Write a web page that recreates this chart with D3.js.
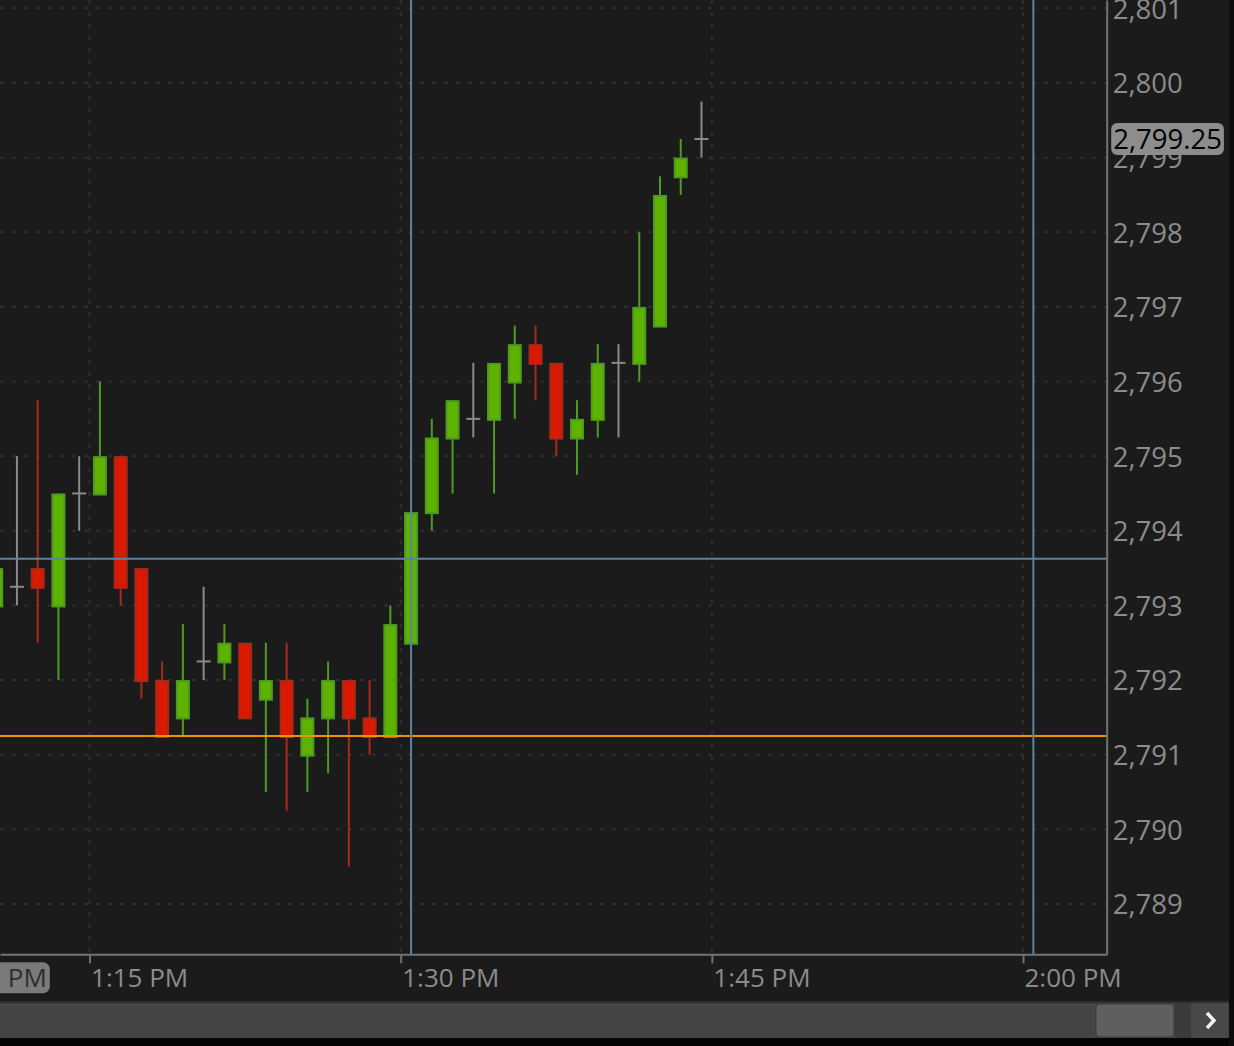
<!DOCTYPE html>
<html>
<head>
<meta charset="utf-8">
<script src="https://cdn.jsdelivr.net/npm/d3@7"></script>
<style>
  body { margin: 0; background: #1b1b1b; overflow: hidden; }
  svg { display: block; }
  text { font-family: 'Open Sans', sans-serif; }
</style>
</head>
<body>
<div id="chart"></div>
<script>
// one minute bars, 1:10 PM .. 1:44 PM
const barTimes = ['13:10', '13:11', '13:12', '13:13', '13:14', '13:15', '13:16',
    '13:17', '13:18', '13:19', '13:20', '13:21', '13:22', '13:23', '13:24',
    '13:25', '13:26', '13:27', '13:28', '13:29', '13:30', '13:31', '13:32',
    '13:33', '13:34', '13:35', '13:36', '13:37', '13:38', '13:39', '13:40',
    '13:41', '13:42', '13:43', '13:44']
const opens = [2793, 2793.25, 2793.5, 2793, 2794.5, 2794.5, 2795, 2793.5, 2792,
    2791.5, 2792.25, 2792.25, 2792.5, 2791.75, 2792, 2791, 2791.5, 2792, 2791.5,
    2791.25, 2792.5, 2794.25, 2795.25, 2795.5, 2795.5, 2796, 2796.5, 2796.25,
    2795.25, 2795.5, 2796.25, 2796.25, 2796.75, 2798.75, 2799.25]
const highs = [2793.5, 2795, 2795.75, 2794.5, 2795, 2796, 2795, 2793.5, 2792.25,
    2792.75, 2793.25, 2792.75, 2792.5, 2792.5, 2792.5, 2791.75, 2792.25, 2792, 2792,
    2793, 2794.25, 2795.5, 2795.75, 2796.25, 2796.25, 2796.75, 2796.75, 2796.25,
    2795.75, 2796.5, 2796.5, 2798, 2798.75, 2799.25, 2799.75]
const lows = [2793, 2793, 2792.5, 2792, 2794, 2794.5, 2793, 2791.75, 2791.25,
    2791.25, 2792, 2792, 2791.5, 2790.5, 2790.25, 2790.5, 2790.75, 2789.5, 2791,
    2791.25, 2792.5, 2794, 2794.5, 2795.25, 2794.5, 2795.5, 2795.75, 2795,
    2794.75, 2795.25, 2795.25, 2796, 2796.75, 2798.5, 2799]
const closes = [2793.5, 2793.25, 2793.25, 2794.5, 2794.5, 2795, 2793.25, 2792,
    2791.25, 2792, 2792.25, 2792.5, 2791.5, 2792, 2791.25, 2791.5, 2792, 2791.5,
    2791.25, 2792.75, 2794.25, 2795.25, 2795.75, 2795.5, 2796.25, 2796.5, 2796.25,
    2795.25, 2795.5, 2796.25, 2796.25, 2797, 2798.5, 2799, 2799.25]

const priceTicks = [2789, 2790, 2791, 2792, 2793, 2794, 2795, 2796, 2797, 2798, 2799, 2800, 2801]
const timeTicks = ['13:15', '13:30', '13:45', '14:00']
const lastPrice = 2799.25
const orangeLevel = 2791.25
const crossPrice = 2793.625
const crossTimes = ['13:30', '14:00']
const bubbleTime = '13:10'

const W = 1234, H = 1046
const plotRight = 1106.7, plotBottom = 954.3

const parseTime = d3.timeParse('%H:%M')

var x = d3.scaleTime()
    .domain([parseTime('13:30'), parseTime('14:00')])
    .range([400.7, 1023])
x.domain([x.invert(0), x.invert(plotRight)]).range([0, plotRight])

var y = d3.scaleLinear()
    .domain([2791, 2800])
    .range([754.7, 83])
y.domain([y.invert(plotBottom), y.invert(0)]).range([plotBottom, 0])

var barW = x(parseTime('13:11')) - x(parseTime('13:10'))
var cx = (t) => x(parseTime(t)) + barW / 2

var bars = barTimes.map((t, i) => {
    return { t: t, o: opens[i], h: highs[i], l: lows[i], c: closes[i] }
})

var svg = d3.select('#chart')
    .append('svg')
    .attr('width', W)
    .attr('height', H)

svg.append('rect').attr('width', W).attr('height', H).attr('fill', '#1b1b1b')

svg.append('defs').append('clipPath').attr('id', 'plot')
    .append('rect').attr('width', plotRight).attr('height', plotBottom)

var plot = svg.append('g').attr('clip-path', 'url(#plot)')

// grid
plot.selectAll('.hgrid')
    .data(priceTicks)
    .enter()
    .append('line')
    .attr('x1', 0).attr('x2', plotRight)
    .attr('y1', (d) => y(d)).attr('y2', (d) => y(d))
    .attr('stroke', '#2f2f2f').attr('stroke-width', 2)
    .attr('stroke-dasharray', '4,8')

plot.selectAll('.vgrid')
    .data(timeTicks)
    .enter()
    .append('line')
    .attr('x1', (d) => x(parseTime(d))).attr('x2', (d) => x(parseTime(d)))
    .attr('y1', 0).attr('y2', plotBottom)
    .attr('stroke', '#2f2f2f').attr('stroke-width', 2)
    .attr('stroke-dasharray', '4,8')

var colorOf = (d) => d.c > d.o ? 'up' : (d.c < d.o ? 'down' : 'flat')
const wickColor = { up: '#4e9b22', down: '#a9291b', flat: '#8a8a8a' }
const bodyColor = { up: '#5db300', down: '#d91a00' }

// wicks
plot.selectAll('.wick')
    .data(bars)
    .enter()
    .append('line')
    .attr('x1', (d) => cx(d.t)).attr('x2', (d) => cx(d.t))
    .attr('y1', (d) => y(d.h)).attr('y2', (d) => y(d.l))
    .attr('stroke', (d) => wickColor[colorOf(d)])
    .attr('stroke-width', 2)

// bodies
plot.selectAll('.body')
    .data(bars.filter((d) => d.o != d.c))
    .enter()
    .append('rect')
    .attr('x', (d) => cx(d.t) - 6)
    .attr('y', (d) => y(Math.max(d.o, d.c)) + 1)
    .attr('width', 12)
    .attr('height', (d) => Math.abs(y(d.o) - y(d.c)))
    .attr('fill', (d) => bodyColor[colorOf(d)])
    .attr('stroke', (d) => wickColor[colorOf(d)])
    .attr('stroke-width', 2)

// doji crosses
plot.selectAll('.doji')
    .data(bars.filter((d) => d.o == d.c))
    .enter()
    .append('line')
    .attr('x1', (d) => cx(d.t) - 7).attr('x2', (d) => cx(d.t) + 7)
    .attr('y1', (d) => y(d.c)).attr('y2', (d) => y(d.c))
    .attr('stroke', wickColor.flat)
    .attr('stroke-width', 2)

// price lines and crosshair
plot.append('line')
    .attr('x1', 0).attr('x2', plotRight)
    .attr('y1', y(orangeLevel)).attr('y2', y(orangeLevel))
    .attr('stroke', '#f39200').attr('stroke-width', 2)

plot.append('line')
    .attr('x1', 0).attr('x2', plotRight)
    .attr('y1', y(crossPrice)).attr('y2', y(crossPrice))
    .attr('stroke', '#5b83a3').attr('stroke-width', 2)

plot.selectAll('.vcross')
    .data(crossTimes)
    .enter()
    .append('line')
    .attr('x1', (d) => cx(d)).attr('x2', (d) => cx(d))
    .attr('y1', 0).attr('y2', plotBottom)
    .attr('stroke', '#5b83a3').attr('stroke-width', 2)

// axes
var xAxis = svg.append('g')
    .attr('transform', 'translate(0,' + plotBottom + ')')
    .call(d3.axisBottom(x)
        .tickValues(timeTicks.map(parseTime))
        .tickFormat(d3.timeFormat('%-I:%M %p'))
        .tickSize(9)
        .tickSizeOuter(0))
xAxis.select('.domain').attr('stroke', '#737373').attr('stroke-width', 2)
xAxis.selectAll('.tick line').attr('stroke', '#737373').attr('stroke-width', 2)
xAxis.selectAll('.tick text')
    .attr('text-anchor', 'start')
    .attr('x', 1).attr('y', 33).attr('dy', 0)
    .attr('fill', '#8c8c8c')
    .style('font-size', '26px')

var yAxis = svg.append('g')
    .attr('transform', 'translate(' + plotRight + ',0)')
    .call(d3.axisRight(y)
        .tickValues(priceTicks)
        .tickFormat(d3.format(','))
        .tickSize(0)
        .tickPadding(6)
        .tickSizeOuter(0))
yAxis.select('.domain').attr('stroke', '#737373').attr('stroke-width', 2)
yAxis.selectAll('.tick text')
    .attr('dy', '0.36em')
    .attr('fill', '#8c8c8c')
    .style('font-size', '27.5px')

// last price bubble
var pb = svg.append('g')
var pbRect = pb.append('rect')
var pbText = pb.append('text')
    .attr('x', plotRight + 6.5)
    .attr('y', y(lastPrice))
    .attr('dy', '0.36em')
    .attr('fill', '#000')
    .style('font-size', '27.5px')
    .text(d3.format(',.2f')(lastPrice))
var bb = pbText.node().getBBox()
pbRect.attr('x', bb.x - 2).attr('y', y(lastPrice) - 16)
    .attr('width', bb.width + 4).attr('height', 32)
    .attr('rx', 6).attr('fill', '#8d8d8d')

// time bubble at left edge
var tb = svg.append('g')
var tbRect = tb.append('rect')
var tbText = tb.append('text')
    .attr('x', cx(bubbleTime) + 2)
    .attr('y', plotBottom + 33)
    .attr('text-anchor', 'middle')
    .attr('fill', '#2e2e2e')
    .style('font-size', '26px')
    .text(d3.timeFormat('%-I:%M %p')(parseTime(bubbleTime)))
bb = tbText.node().getBBox()
tbRect.attr('x', bb.x - 3).attr('y', plotBottom + 8)
    .attr('width', bb.width + 6).attr('height', 31)
    .attr('rx', 7).attr('fill', '#7a7a7a')

// scroll bar
svg.append('rect').attr('x', 0).attr('y', 1001).attr('width', W).attr('height', 2).attr('fill', '#2c2c2c')
svg.append('rect').attr('x', 0).attr('y', 1003).attr('width', W).attr('height', 35).attr('fill', '#444444')
svg.append('rect').attr('x', 0).attr('y', 1038).attr('width', W).attr('height', 8).attr('fill', '#050505')
svg.append('rect').attr('x', 1096).attr('y', 1004).attr('width', 78).attr('height', 33)
    .attr('rx', 3).attr('fill', '#5f5f5f').attr('stroke', '#3a3a3a').attr('stroke-width', 1)
svg.append('rect').attr('x', 1175).attr('y', 1003).attr('width', 16).attr('height', 35).attr('fill', '#3b3b3b')
svg.append('rect').attr('x', 1191).attr('y', 1003).attr('width', 37).attr('height', 35).attr('fill', '#484848')
svg.append('path')
    .attr('d', 'M1207,1013 L1214,1020.5 L1207,1028')
    .attr('fill', 'none').attr('stroke', '#f0f0f0').attr('stroke-width', 3.5)
svg.append('rect').attr('x', 1229).attr('y', 0).attr('width', 5).attr('height', H).attr('fill', '#0c0c0c')
</script>
</body>
</html>
